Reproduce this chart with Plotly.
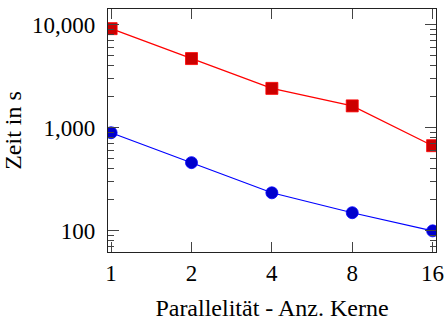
import plotly.graph_objects as go

cores = [1, 2, 4, 8, 16]
tick_labels = ["1", "2", "4", "8", "16"]
series_red = [9150, 4690, 2410, 1630, 670]
series_blue = [895, 459, 234, 150, 100]
y_major = [100, 1000, 10000]
y_major_labels = ["100", "1,000", "10,000"]
y_minor = [70, 80, 90, 200, 300, 400, 500, 600, 700, 800, 900,
           2000, 3000, 4000, 5000, 6000, 7000, 8000, 9000]

yrange = [1.795, 4.152]
tick_font = dict(family="Liberation Serif", size=23, color="black")
title_font = dict(family="Liberation Serif", size=24, color="black")
tick_color = "#444444"

fig = go.Figure()
fig.add_trace(go.Scatter(
    x=cores, y=series_red, mode="lines+markers",
    line=dict(color="#ff0000", width=1.2),
    marker=dict(symbol="square", size=12, color="#cc0000",
                line=dict(color="#ff0000", width=0.8)),
    showlegend=False))
fig.add_trace(go.Scatter(
    x=cores, y=series_blue, mode="lines+markers",
    line=dict(color="#0000ff", width=1.2),
    marker=dict(symbol="circle", size=12, color="#0000cc",
                line=dict(color="#0000ff", width=0.8)),
    showlegend=False))

fig.update_layout(
    width=445, height=321,
    margin=dict(l=108, r=9, t=9, b=69),
    paper_bgcolor="white", plot_bgcolor="white",
    font=tick_font,
    xaxis=dict(
        type="log", range=[-0.0117, 1.2168],
        tickvals=cores, ticktext=tick_labels, tickfont=tick_font,
        ticks="inside", ticklen=10, tickcolor=tick_color, tickwidth=1,
        ticklabelstandoff=0,
        showline=True, linecolor="#222222", linewidth=1.2, mirror="ticks",
        showgrid=False, zeroline=False, automargin=False,
        title=dict(text="Parallelität - Anz. Kerne", font=title_font, standoff=18),
    ),
    yaxis=dict(
        type="log", range=yrange,
        tickvals=y_major, ticktext=y_major_labels, tickfont=tick_font,
        ticks="inside", ticklen=11, tickcolor=tick_color, tickwidth=1,
        ticklabelstandoff=7,
        minor=dict(tickmode="array", tickvals=y_minor, ticks="inside",
                   ticklen=6, tickcolor=tick_color, tickwidth=1, showgrid=False),
        showline=True, linecolor="#222222", linewidth=1.2, mirror="ticks",
        showgrid=False, zeroline=False, automargin=False,
        title=dict(text="Zeit in s", font=title_font, standoff=10),
    ),
)

fig.write_html("out.html", config={"displayModeBar": False},
               post_script="document.body.style.margin='0';document.body.style.padding='0';")
